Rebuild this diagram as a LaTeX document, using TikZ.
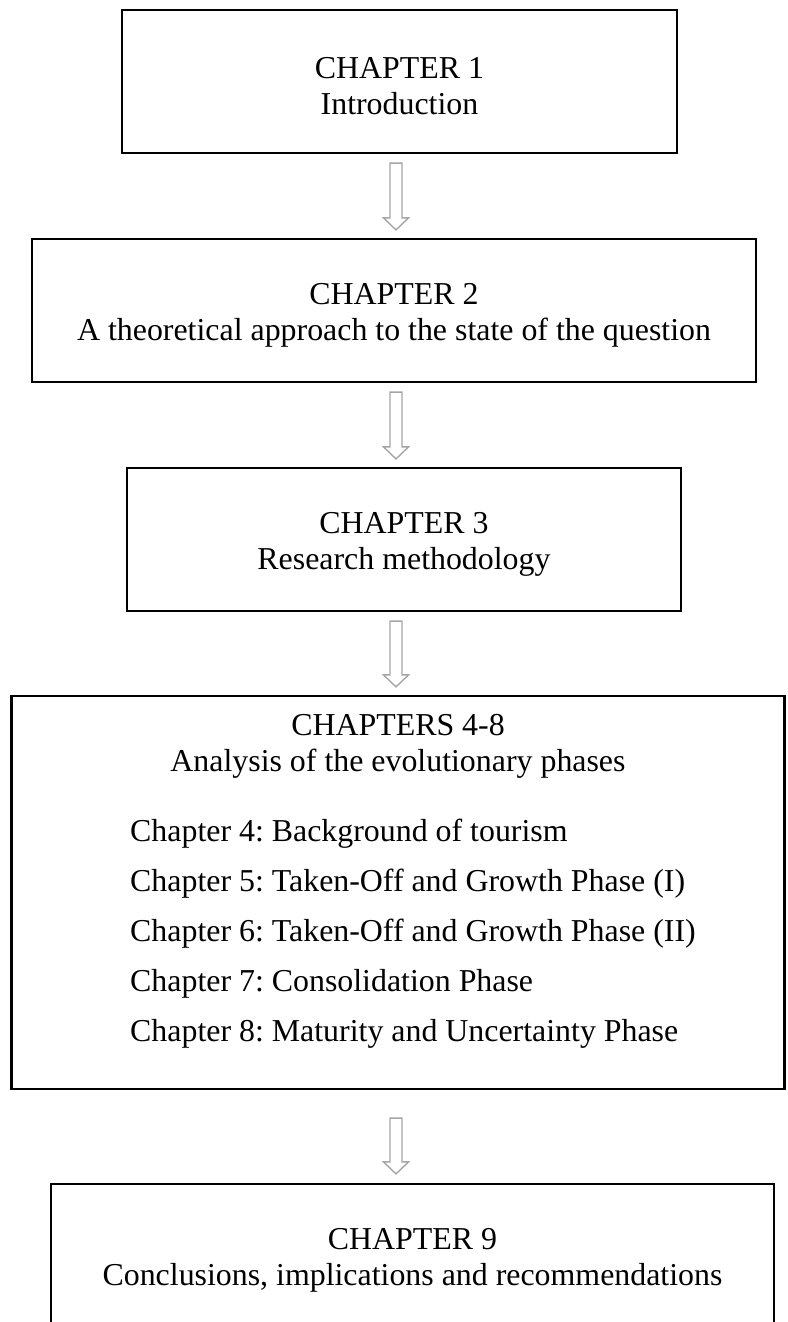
\documentclass[tikz,border=0pt]{standalone}
\usepackage{fontspec}
\setmainfont{Liberation Serif}
\usetikzlibrary{calc}
\definecolor{arrowgray}{HTML}{A6A6A6}
\tikzset{
  chapbox/.style={draw=black, line width=2.2bp, rectangle, inner sep=0pt},
  boxtext/.style={inner sep=0pt, align=center, font=\fontsize{32}{36}\selectfont\frenchspacing},
  itemtext/.style={inner sep=0pt, anchor=west, font=\fontsize{32}{36}\selectfont\frenchspacing},
  hollowarrow/.style={draw=arrowgray, line width=1.4bp, line join=miter, fill=white}
}
\newcommand{\blockarrow}[2]{%
  \draw[hollowarrow] ($(#1)+(-6,0)$) -- ($(#2)+(-6,-12)$) -- ($(#2)+(-12.5,-12)$) -- (#2)
    -- ($(#2)+(12.5,-12)$) -- ($(#2)+(6,-12)$) -- ($(#1)+(6,0)$) -- cycle;}
\begin{document}
\begin{tikzpicture}[x=1bp,y=-1bp]
\useasboundingbox (0,0) rectangle (787,1322);
\begin{scope}
\clip (0,0) rectangle (787,1322);
\node[chapbox, minimum width=555bp, minimum height=143bp] (c1) at (399.5,81.5) {};
\node[chapbox, minimum width=724bp, minimum height=143bp] (c2) at (394,310.5) {};
\node[chapbox, minimum width=554bp, minimum height=143bp] (c3) at (404,539.5) {};
\node[chapbox, minimum width=773bp, minimum height=393bp] (c4) at (398,892.5) {};
\node[chapbox, minimum width=723bp, minimum height=143bp] (c9) at (412.5,1255.5) {};
\end{scope}
\node[boxtext] (t1) at ($(c1.center)+(0,5)$) {CHAPTER 1\\Introduction};
\node[boxtext] (t2) at ($(c2.center)+(0,5)$) {CHAPTER 2\\A theoretical approach to the state of the question};
\node[boxtext] (t3) at ($(c3.center)+(0,5)$) {CHAPTER 3\\Research methodology};
\node[boxtext] (t4) at (398,746) {CHAPTERS 4-8\\Analysis of the evolutionary phases};
\node[boxtext] (t9) at ($(c9.center)+(0,5)$) {CHAPTER 9\\Conclusions, implications and recommendations};
\node[itemtext] (i4) at (130,834) {Chapter 4: Background of tourism};
\node[itemtext] (i5) at (130,884) {Chapter 5: Taken-Off and Growth Phase (I)};
\node[itemtext] (i6) at (130,934) {Chapter 6: Taken-Off and Growth Phase (II)};
\node[itemtext] (i7) at (130,984) {Chapter 7: Consolidation Phase};
\node[itemtext] (i8) at (130,1034) {Chapter 8: Maturity and Uncertainty Phase};
\coordinate (ax) at (396,0);
\coordinate (a1s) at ($(c1.south -| ax)+(0,9)$);
\coordinate (a1e) at ($(c2.north -| ax)+(0,-8)$);
\coordinate (a2s) at ($(c2.south -| ax)+(0,9)$);
\coordinate (a2e) at ($(c3.north -| ax)+(0,-8)$);
\coordinate (a3s) at ($(c3.south -| ax)+(0,9)$);
\coordinate (a3e) at ($(c4.north -| ax)+(0,-8)$);
\coordinate (a4s) at ($(c4.south -| ax)+(0,28)$);
\coordinate (a4e) at ($(c9.north -| ax)+(0,-9)$);
\blockarrow{a1s}{a1e}
\blockarrow{a2s}{a2e}
\blockarrow{a3s}{a3e}
\blockarrow{a4s}{a4e}
\end{tikzpicture}
\end{document}
